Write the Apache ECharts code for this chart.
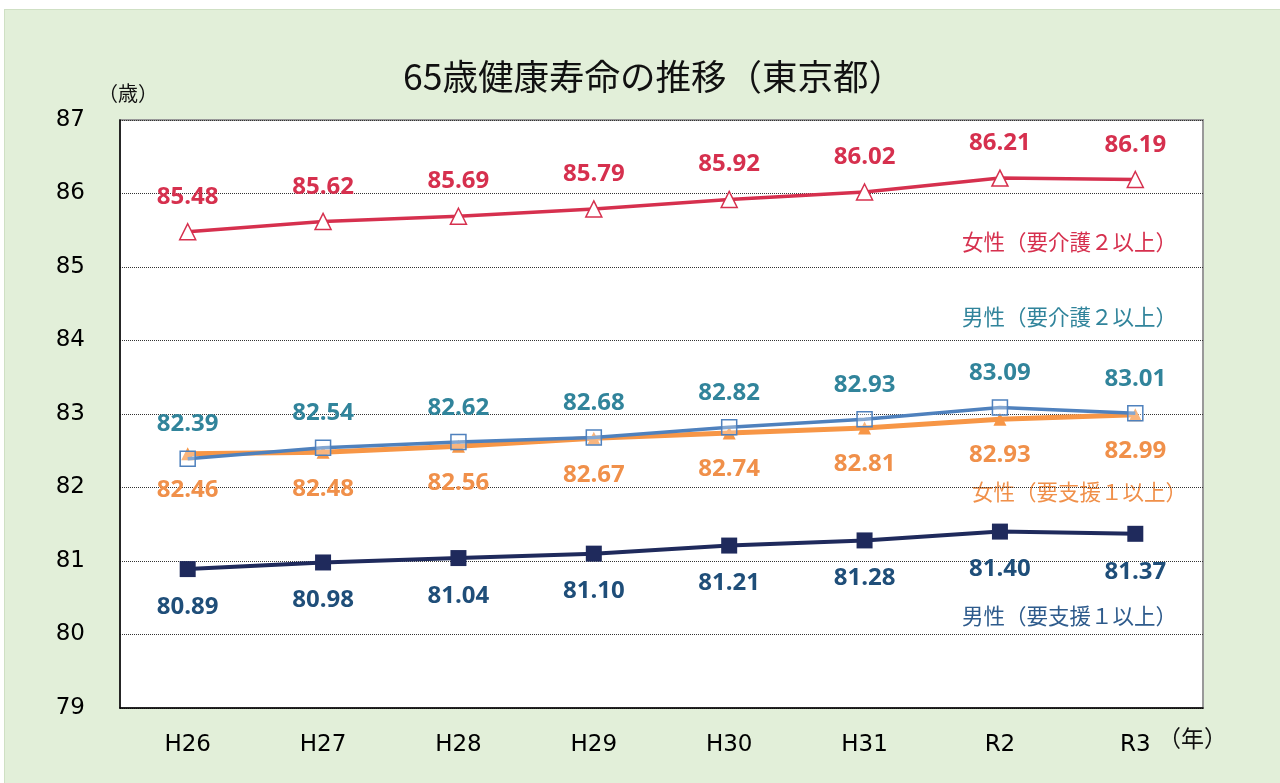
<!DOCTYPE html>
<html>
<head>
<meta charset="utf-8">
<script src="https://cdn.jsdelivr.net/npm/echarts@6/dist/echarts.min.js"></script>
<style>
html, body { margin: 0; padding: 0; background: #fff; }
#wrap { position: absolute; left: 4px; top: 9px; width: 1276px; height: 774px; background: #e2efd9; border-left: 1px solid #cfe0c4; border-top: 1px solid #cfe0c4; }
#chart { position: absolute; left: 0; top: 0; width: 1280px; height: 783px; }
</style>
</head>
<body>
<div id="wrap"></div>
<div id="chart"></div>
<script>
// 年度
var years = ['H26', 'H27', 'H28', 'H29', 'H30', 'H31', 'R2', 'R3'];
// 女性（要介護２以上）
var femaleCare2 = [85.48, 85.62, 85.69, 85.79, 85.92, 86.02, 86.21, 86.19];
// 男性（要介護２以上）
var maleCare2 = [82.39, 82.54, 82.62, 82.68, 82.82, 82.93, 83.09, 83.01];
// 女性（要支援１以上）
var femaleSupport1 = [82.46, 82.48, 82.56, 82.67, 82.74, 82.81, 82.93, 82.99];
// 男性（要支援１以上）
var maleSupport1 = [80.89, 80.98, 81.04, 81.10, 81.21, 81.28, 81.40, 81.37];

var numFont = 'DejaVu Sans, Verdana, sans-serif';
var lblFont = 'Open Sans, sans-serif';
var jpFont = 'Noto Sans CJK JP, sans-serif';

function valLabel(pos, color) {
	return {
		show: true,
		position: pos,
		distance: pos == 'top' ? 14 : 18,
		color: color,
		fontFamily: lblFont,
		fontWeight: 'bold',
		fontSize: 24,
		formatter: function (p) { return p.value.toFixed(2); }
	};
}

var myChart = echarts.init(document.getElementById('chart'));
var option = {
	backgroundColor: 'transparent',
	animation: false,
	title: {
		text: '65歳健康寿命の推移（東京都）',
		left: 398,
		top: 54,
		textStyle: { fontFamily: jpFont, fontWeight: 'normal', fontSize: 35.5, color: '#111' }
	},
	grid: {
		left: 120, top: 120, right: 77, bottom: 75,
		show: true, backgroundColor: '#fff', borderColor: '#999', borderWidth: 2
	},
	xAxis: {
		type: 'category',
		data: years,
		boundaryGap: true,
		axisLine: { lineStyle: { color: '#000', width: 1.5 } },
		axisTick: { inside: true, length: 8, lineStyle: { color: '#444' } },
		axisLabel: { margin: 26, fontFamily: numFont, fontSize: 23, color: '#000' }
	},
	yAxis: {
		type: 'value',
		min: 79, max: 87, interval: 1,
		axisLine: { show: true, lineStyle: { color: '#000', width: 1.5 } },
		axisTick: { show: false },
		axisLabel: { margin: 35, fontFamily: numFont, fontSize: 23, color: '#000' },
		splitLine: { lineStyle: { color: '#333', type: 'dotted', width: 1 } }
	},
	series: [
		{
			name: '女性（要介護２以上）', type: 'line', data: femaleCare2,
			symbol: 'triangle', symbolSize: 16,
			itemStyle: { color: '#fff', borderColor: '#d6304e', borderWidth: 1.5 },
			lineStyle: { color: '#d6304e', width: 3.5 },
			label: valLabel('top', '#d6304e'), z: 3
		},
		{
			name: '女性（要支援１以上）', type: 'line', data: femaleSupport1,
			symbol: 'triangle', symbolSize: 13,
			itemStyle: { color: '#f79646' },
			lineStyle: { color: '#f79646', width: 5 },
			label: valLabel('bottom', '#f0904a'), z: 3
		},
		{
			name: '男性（要介護２以上）', type: 'line', data: maleCare2,
			symbol: 'rect', symbolSize: 15,
			itemStyle: { color: 'rgba(255,255,255,0.3)', borderColor: '#4f81bd', borderWidth: 1.5 },
			lineStyle: { color: '#4f81bd', width: 3.5 },
			label: valLabel('top', '#31849b'), z: 4
		},
		{
			name: '男性（要支援１以上）', type: 'line', data: maleSupport1,
			symbol: 'rect', symbolSize: 16,
			itemStyle: { color: '#1f2a5c' },
			lineStyle: { color: '#1f2a5c', width: 4 },
			label: valLabel('bottom', '#1f4e79'), z: 4
		}
	],
	graphic: [
		{ type: 'text', left: 98, top: 83, style: { text: '（歳）', fontFamily: jpFont, fontSize: 20, fill: '#111' } },
		{ type: 'text', left: 1158, top: 727, style: { text: '（年）', fontFamily: jpFont, fontSize: 23, fill: '#111' } },
		{ type: 'text', left: 962, top: 231, style: { text: '女性（要介護２以上）', fontFamily: jpFont, fontSize: 21.5, fill: '#d6304e' } },
		{ type: 'text', left: 962, top: 306, style: { text: '男性（要介護２以上）', fontFamily: jpFont, fontSize: 21.5, fill: '#31849b' } },
		{ type: 'text', left: 972, top: 481, style: { text: '女性（要支援１以上）', fontFamily: jpFont, fontSize: 21.5, fill: '#f0904a' } },
		{ type: 'text', left: 962, top: 605, style: { text: '男性（要支援１以上）', fontFamily: jpFont, fontSize: 21.5, fill: '#2e5b8c' } }
	]
};

// 将配置应用到图表上
myChart.setOption(option);
</script>
</body>
</html>
